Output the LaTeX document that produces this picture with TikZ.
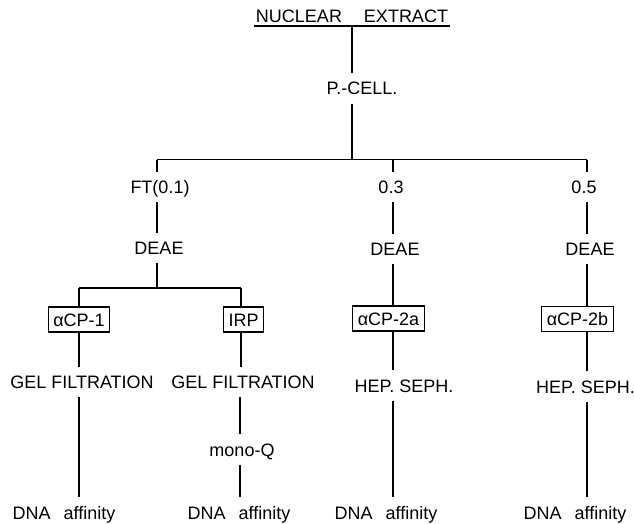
\documentclass[tikz,border=0pt]{standalone}
\usepackage{fontspec}
\setmainfont{Liberation Sans}
\begin{document}
\begin{tikzpicture}[x=1pt,y=-1pt,line width=1.6pt,
  lbl/.style={font=\fontsize{18}{20}\selectfont, text height=13pt, text depth=0pt, inner xsep=0pt, inner ysep=8pt},
  boxed/.style={draw, font=\fontsize{18}{20}\selectfont, text height=13pt, text depth=0pt, inner xsep=5pt, inner ysep=6pt, line width=1.4pt}]
\useasboundingbox[fill=white] (0,0) rectangle (634,524);
% top
\node[lbl, inner ysep=2pt, inner xsep=1pt] (ne) at (352,16.5) {NUCLEAR\hspace{22pt}EXTRACT};
\draw (ne.south west) -- (ne.south east);
\node[lbl] (pc) at (362,88.5) {P.-CELL.};
\coordinate (j0) at (352,159.5);
\draw (ne.south) -- (ne.south |- pc.north);
\draw (j0 |- pc.south) -- (j0);
% main bar
\coordinate (jA) at (157,159.5);
\coordinate (jB) at (393,159.5);
\coordinate (jC) at (587,159.5);
\draw (jA) -- (jC);
% column FT
\node[lbl] (ft) at (160,187) {FT(0.1)};
\node[lbl] (d1) at (159,248) {DEAE};
\draw (jA) -- (jA |- ft.north);
\draw (jA |- ft.south) -- (jA |- d1.north);
\coordinate (jD) at (157,288);
\draw (jA |- d1.south) -- (jD);
\coordinate (jE) at (79,288);
\coordinate (jF) at (241,288);
\draw (jE) -- (jF);
\node[boxed] (b1) at (79,319.5) {αCP-1};
\node[boxed] (b2) at (243.5,319.5) {IRP};
\draw (jE) -- (b1.north);
\draw (jF) -- (jF |- b2.north);
\node[lbl] (g1) at (82,382) {GEL FILTRATION};
\node[lbl] (g2) at (243,382) {GEL FILTRATION};
\draw (b1.south) -- (b1.south |- g1.north);
\draw (jF |- b2.south) -- (jF |- g2.north);
\node[lbl] (mq) at (242,449.5) {mono-Q};
\coordinate (jG) at (240,0);
\draw (jG |- g2.south) -- (jG |- mq.north);
\node[lbl] (n1) at (64,512.5) {DNA\hspace{13pt}affinity};
\node[lbl] (n2) at (239,512.5) {DNA\hspace{13pt}affinity};
\draw (b1.south |- g1.south) -- (b1.south |- n1.north);
\draw (jG |- mq.south) -- (jG |- n2.north);
% column 0.3
\node[lbl] (c3) at (391,187) {0.3};
\node[lbl] (d2) at (395,249) {DEAE};
\node[boxed] (b3) at (388.5,318.5) {αCP-2a};
\node[lbl] (h1) at (404,385.5) {HEP. SEPH.};
\node[lbl] (n3) at (386,512.5) {DNA\hspace{13pt}affinity};
\draw (jB) -- (jB |- c3.north);
\draw (jB |- c3.south) -- (jB |- d2.north);
\draw (jB |- d2.south) -- (jB |- b3.north);
\draw (jB |- b3.south) -- (jB |- h1.north);
\draw (jB |- h1.south) -- (jB |- n3.north);
% column 0.5
\node[lbl] (c5) at (584,187) {0.5};
\node[lbl] (d3) at (590,249) {DEAE};
\node[boxed] (b4) at (577.5,319) {αCP-2b};
\node[lbl] (h2) at (585.5,386.5) {HEP. SEPH.};
\node[lbl] (n4) at (575,512.5) {DNA\hspace{13pt}affinity};
\draw (jC) -- (jC |- c5.north);
\draw (jC |- c5.south) -- (jC |- d3.north);
\draw (jC |- d3.south) -- (jC |- b4.north);
\draw (jC |- b4.south) -- (jC |- h2.north);
\draw (jC |- h2.south) -- (jC |- n4.north);
\end{tikzpicture}
\end{document}
